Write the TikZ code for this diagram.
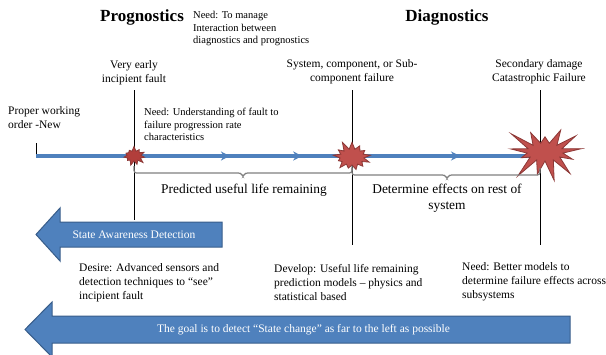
\documentclass[tikz,border=0pt]{standalone}
\usepackage{fontspec}
\setmainfont{Liberation Serif}
\usetikzlibrary{shapes.symbols,decorations.markings,arrows.meta}
\definecolor{bluefill}{HTML}{4F81BD}
\definecolor{blueedge}{HTML}{385D8A}
\definecolor{redfill}{HTML}{C0504D}
\definecolor{rededge}{HTML}{8C3836}
\definecolor{darkred}{HTML}{B23E3B}
\begin{document}
\begin{tikzpicture}[x=1pt,y=-1pt,
  lbl/.style={font=\fontsize{11.5}{14}\selectfont, align=center, inner sep=0pt},
  lbll/.style={font=\fontsize{11.5}{14}\selectfont, align=left, inner sep=0pt},
  small/.style={font=\fontsize{10.5}{12.5}\selectfont, align=left, inner sep=0pt},
  head/.style={font=\fontsize{17}{20}\selectfont\bfseries, inner sep=0pt},
  mid/.style={font=\fontsize{13.4}{16}\selectfont, align=center, inner sep=0pt},
  vline/.style={black, line width=0.6pt},
  gbrace/.style={draw=gray, line width=1.2pt, rounded corners=2.5pt},
  burst/.style={starburst, fill=redfill, draw=rededge, line width=0.8pt, inner sep=0pt},
  bigarrow/.style={fill=bluefill, draw=blueedge, line width=1pt},
  wtext/.style={text=white, font=\fontsize{11.5}{14}\selectfont, inner sep=0pt},
  timeline/.style={line width=3.5pt, draw=bluefill, postaction={decorate},
    decoration={markings,
      mark=at position 0.381 with {\arrow[bluefill]{Stealth[length=9pt,width=9pt]}},
      mark=at position 0.523 with {\arrow[bluefill]{Stealth[length=9pt,width=9pt]}},
      mark=at position 0.833 with {\arrow[bluefill]{Stealth[length=9pt,width=9pt]}}}},
]
\useasboundingbox (0,0) rectangle (606,354);

% headings
\node[head] (prog) at (142,17) {Prognostics};
\node[head] (diag) at (447,17) {Diagnostics};
\node[small, anchor=west] (needmanage) at (193,28.5) {Need: To manage\\Interaction between\\diagnostics and prognostics};

% event labels
\node[lbl] (early) at (134,73) {Very early\\incipient fault};
\node[lbl] (sysfail) at (352,71.5) {System, component, or Sub-\\component failure};
\node[lbl] (catas) at (539,71.5) {Secondary damage\\Catastrophic Failure};
\node[lbll, anchor=west] (proper) at (8,118) {Proper working\\order -New};
\node[small, anchor=west] (needund) at (144,124.5) {Need: Understanding of fault to\\failure progression rate\\characteristics};

% timeline
\coordinate (tick0) at (36,143);
\coordinate (start) at (36,156);
\coordinate (tend) at (545,156);
\coordinate (v1top) at (134,90);
\coordinate (v1bot) at (134,220);
\coordinate (v2top) at (352,90);
\coordinate (v2bot) at (352,245);
\coordinate (v3top) at (540,90);
\coordinate (v3bot) at (540,245);

\draw[vline] (tick0) -- (start);
\draw[vline] (v1top) -- (v1bot);
\draw[vline] (v2top) -- (v2bot);
\draw[vline] (v3top) -- (v3bot);

\draw[timeline] (start) -- (tend);

\node[burst, fill=darkred, minimum width=24pt, minimum height=20pt, starburst points=11, starburst point height=5pt, random starburst=7] (s1) at (134,156) {};
\node[burst, minimum width=42pt, minimum height=34pt, starburst points=13, starburst point height=9pt, random starburst=11] (s2) at (352,157) {};
\node[burst, minimum width=84pt, minimum height=66pt, starburst points=13, starburst point height=24pt, random starburst=23] (s3) at (545,152) {};

% braces
\coordinate (b1l) at (134,166);
\coordinate (b1r) at (352,166);
\coordinate (b1m) at (243,177);
\coordinate (b2l) at (352,168);
\coordinate (b2r) at (540,168);
\coordinate (b2m) at (447,179);
\draw[gbrace] (b1l) |- ([xshift=-2pt,yshift=4pt]b1m) -- (b1m) -- ([xshift=2pt,yshift=4pt]b1m) -| (b1r);
\draw[gbrace] (b2l) |- ([xshift=-2pt,yshift=4pt]b2m) -- (b2m) -- ([xshift=2pt,yshift=4pt]b2m) -| (b2r);
\node[mid] (pred) at (244,190) {Predicted useful life remaining};
\node[mid] (deter) at (447,198) {Determine effects on rest of\\system};

% state awareness arrow
\draw[bigarrow] (222,222) -- (60,222) -- (60,208) -- (36,234.5) -- (60,261) -- (60,247) -- (222,247) -- cycle;
\node[wtext] (sad) at (134,234.5) {State Awareness Detection};

% bottom notes
\node[lbll, anchor=west] (desire) at (79,283) {Desire: Advanced sensors and\\detection techniques to “see”\\incipient fault};
\node[lbll, anchor=west] (develop) at (274,283) {Develop: Useful life remaining\\prediction models – physics and\\statistical based};
\node[lbll, anchor=west] (needbetter) at (462,282) {Need: Better models to\\determine failure effects across\\subsystems};

% goal arrow
\draw[bigarrow] (570,316) -- (52,316) -- (52,302) -- (25,329.5) -- (52,357) -- (52,343) -- (570,343) -- cycle;
\node[wtext] (goal) at (303.5,329.5) {The goal is to detect “State change” as far to the left as possible};
\end{tikzpicture}
\end{document}
